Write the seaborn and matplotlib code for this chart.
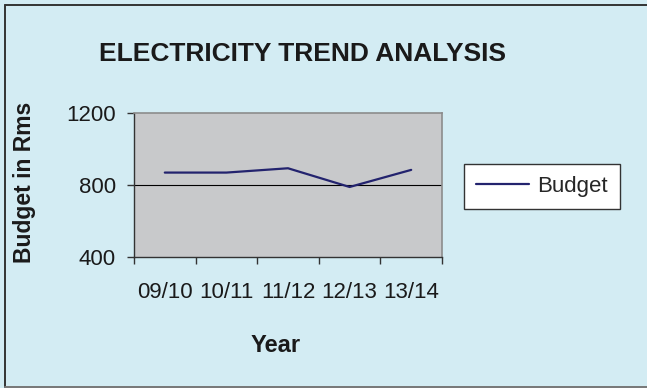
import matplotlib
matplotlib.use("Agg")
import matplotlib.pyplot as plt
from matplotlib.lines import Line2D
import seaborn as sns
import pandas as pd

# Data
years = ["09/10", "10/11", "11/12", "12/13", "13/14"]
budget = [869, 869, 893, 789, 884]

df = pd.DataFrame({"Year": years, "Budget": budget, "pos": range(len(years))})

sns.set_theme(style="white")
plt.rcParams["font.family"] = ["Liberation Sans", "DejaVu Sans"]

W, H = 647, 388
fig = plt.figure(figsize=(W / 100, H / 100), dpi=100, facecolor="#d3ecf3")

# Frame lines around the chart (top, left, bottom)
fx0, fx1 = 4.5 / W, 1.0
fy0, fy1 = 1 - 386.5 / H, 1 - 4.5 / H
for xs, ys, col in [((fx0, fx1), (fy1, fy1), "#333333"),
                    ((fx0, fx0), (fy0, fy1), "#333333"),
                    ((fx0, fx1), (fy0, fy0), "#777777")]:
    fig.add_artist(Line2D(xs, ys, transform=fig.transFigure, color=col,
                          linewidth=1.4))

ax = fig.add_axes([134 / W, 1 - 257 / H, (442 - 134) / W, (257 - 113) / H])
ax.set_facecolor("#c8c9cb")

sns.lineplot(data=df, x="pos", y="Budget", ax=ax, color="#23236e",
             linewidth=1.6, label="Budget", legend=False)

ax.set_xlim(-0.5, len(years) - 0.5)
ax.set_ylim(400, 1200)
ax.set_yticks([400, 800, 1200])
ax.set_yticklabels(["400", "800", "1200"])
ax.axhline(800, color="#000000", linewidth=0.8, zorder=1)

# Category labels centred, tick marks on the category boundaries
ax.set_xticks(range(len(years)))
ax.set_xticklabels(years)
ax.set_xticks([i - 0.5 for i in range(len(years) + 1)], minor=True)
ax.tick_params(axis="x", which="major", length=0, pad=18, labelsize=16,
               labelcolor="#1a1a1a")
ax.tick_params(axis="x", which="minor", length=5, width=1, color="#333333",
               direction="out", bottom=True)
ax.tick_params(axis="y", length=5, width=1, color="#333333", direction="out",
               left=True, labelsize=16, labelcolor="#1a1a1a", pad=8)

for side in ["top", "right"]:
    ax.spines[side].set_color("#8c8c8c")
    ax.spines[side].set_linewidth(1.2)
for side in ["left", "bottom"]:
    ax.spines[side].set_color("#333333")
    ax.spines[side].set_linewidth(1.0)

ax.set_xlabel("")
ax.set_ylabel("")

fig.text(302.5 / W, 1 - 54 / H, "ELECTRICITY TREND ANALYSIS", ha="center",
         va="center", fontsize=19, fontweight="bold", color="#1a1a1a")
fig.text(25 / W, 1 - 182.5 / H, "Budget in Rms", ha="center", va="center",
         rotation=90, fontsize=16.5, fontweight="bold", color="#1a1a1a")
fig.text(276 / W, 1 - 346 / H, "Year", ha="center", va="center",
         fontsize=17, fontweight="bold", color="#1a1a1a")

# Legend box
handle = Line2D([], [], color="#23236e", linewidth=1.6)
leg = fig.legend([handle], ["Budget"], loc="center",
                 bbox_to_anchor=(542 / W, 1 - 186.5 / H),
                 frameon=True, fancybox=False, fontsize=16,
                 handlelength=2.4, handletextpad=0.35,
                 borderpad=0.55, borderaxespad=0)
leg.get_frame().set_facecolor("white")
leg.get_frame().set_edgecolor("#333333")
leg.get_frame().set_linewidth(1.0)
leg.get_frame().set_alpha(1.0)

fig.savefig("out.png", dpi=100, facecolor=fig.get_facecolor())
